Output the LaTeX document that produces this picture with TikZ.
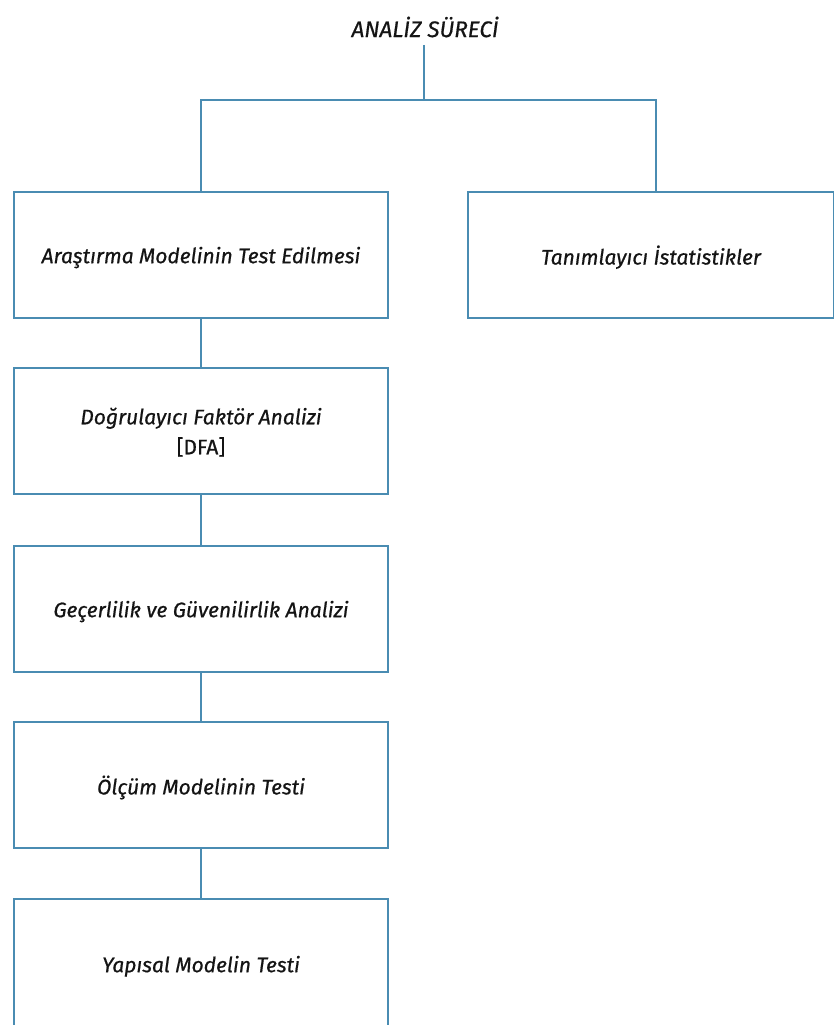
\documentclass[tikz,border=0pt]{standalone}
\usepackage{fontspec}
\setmainfont{Fira Sans}[FakeBold=0.6]
\definecolor{linkblue}{RGB}{74,140,178}
\definecolor{ink}{RGB}{20,20,20}
\begin{document}
\begin{tikzpicture}[x=1pt,y=-1pt,
  stepbox/.style={draw=linkblue,line width=1.6pt,fill=white,text=ink,
    minimum width=374pt,minimum height=126pt,inner sep=0pt,
    align=center,font=\fontsize{21}{30}\selectfont\itshape,
    text depth=0pt},
  link/.style={draw=linkblue,line width=1.6pt}]
\useasboundingbox (0,0) rectangle (834,1025);
\fill[white] (0,0) rectangle (834,1025);

\node[text=ink,font=\fontsize{22.5}{26}\selectfont\itshape] (title) at (425,27) {ANALİZ SÜRECİ};
\coordinate (top) at (424,45);
\coordinate (j) at (424,100);

\node[stepbox] (b1) at (201,255) {Araştırma Modelinin Test Edilmesi};
\node[stepbox,minimum width=366pt] (b6) at (651,255) {Tanımlayıcı İstatistikler};
\node[stepbox] (b2) at (201,431) {Doğrulayıcı Faktör Analizi\\{\upshape [DFA]}};
\node[stepbox] (b3) at (201,609) {Geçerlilik ve Güvenilirlik Analizi};
\node[stepbox] (b4) at (201,785) {Ölçüm Modelinin Testi};
\node[stepbox,minimum height=130pt] (b5) at (201,964) {Yapısal Modelin Testi};

\draw[link] (top) -- (j);
\draw[link] (b1.north) |- (j) -| ([xshift=5pt]b6.north);
\draw[link] (b1.south) -- (b2.north);
\draw[link] (b2.south) -- (b3.north);
\draw[link] (b3.south) -- (b4.north);
\draw[link] (b4.south) -- (b5.north);
\end{tikzpicture}
\end{document}
